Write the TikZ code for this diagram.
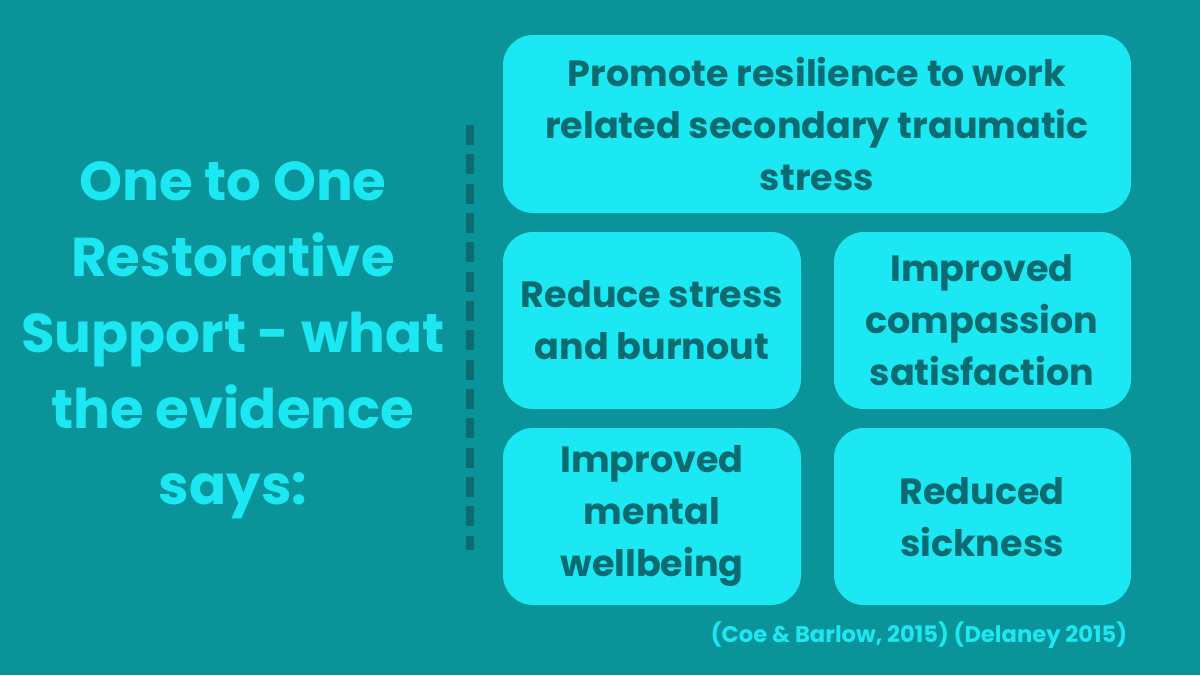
\documentclass[tikz,border=0pt]{standalone}
\usepackage{fontspec}
\setmainfont{Poppins}[BoldFont={* Bold}]
\definecolor{bg}{HTML}{0A9499}
\definecolor{box}{HTML}{1BE8F2}
\definecolor{dk}{HTML}{0B6B70}
\begin{document}
\begin{tikzpicture}[x=0.75pt,y=-0.75pt,
  card/.style={fill=box,rounded corners=22.5pt},
  lab/.style={text=dk,font=\bfseries\fontsize{27.4}{39}\selectfont,align=center}]
\fill[bg] (0,0) rectangle (1200,675);
\useasboundingbox (0,0) rectangle (1200,675);
\fill[card] (503,35) rectangle (1131,213);
\fill[card] (503,232) rectangle (801,409);
\fill[card] (834,232) rectangle (1131,409);
\fill[card] (503,428) rectangle (801,605);
\fill[card] (834,428) rectangle (1131,605);
\node[lab] (a) at (817,124) {Promote resilience to work\\related secondary traumatic\\stress};
\node[lab] (b) at (652,320) {Reduce stress\\and burnout};
\node[lab] (c) at (982,320) {Improved\\compassion\\satisfaction};
\node[lab] (d) at (652,516) {Improved\\mental\\wellbeing};
\node[lab] (e) at (982,517) {Reduced\\sickness};
\node[text=box,font=\bfseries\fontsize{41}{57}\selectfont,align=center] (t) at (233,340) {One to One\\Restorative\\Support - what\\the evidence\\says:};
\draw[dk,line width=6pt,dash pattern=on 15pt off 7pt] (470,125) -- (470,550);
\node[text=box,font=\bfseries\fontsize{17}{20}\selectfont] (cit) at (919,635) {(Coe \& Barlow, 2015) (Delaney 2015)};
\end{tikzpicture}
\end{document}
